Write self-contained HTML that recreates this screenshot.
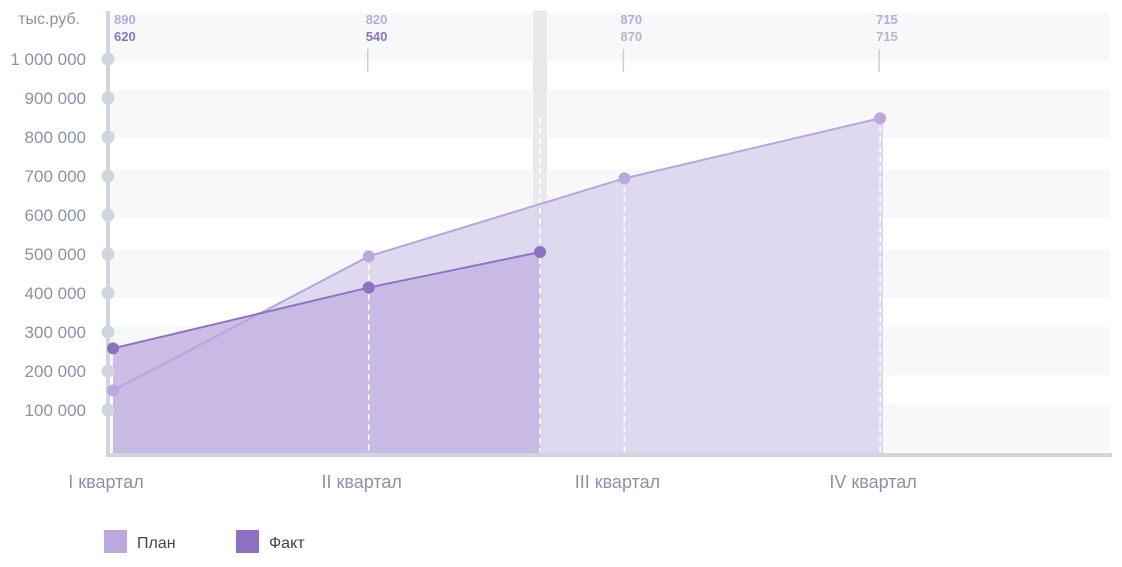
<!DOCTYPE html>
<html><head><meta charset="utf-8"><style>
body{margin:0;background:#fff;width:1122px;height:567px;overflow:hidden;font-family:"Liberation Sans",sans-serif}
</style></head><body>
<svg width="1122" height="567" id="chart" style="position:absolute;left:0;top:0"></svg>
<script>
const categories=["I квартал","II квартал","III квартал","IV квартал"];
const planValues=[150000,494000,694000,848000];
const factValues=[258000,414000,505000];
const factPositions=[0,1,1.67];
const yTicks=[100000,200000,300000,400000,500000,600000,700000,800000,900000,1000000];
const yTickLabels=["100 000","200 000","300 000","400 000","500 000","600 000","700 000","800 000","900 000","1 000 000"];
const topPlanLabels=["890","820","870","715"];
const topFactLabels=["620","540","870","715"];
const NS="http://www.w3.org/2000/svg";
const svg=document.getElementById('chart');
function X(i){return 113+i*255.7;}
function Y(v){return 449-v*0.000390;}
function el(t,a,p){const e=document.createElementNS(NS,t);for(const k in a)e.setAttribute(k,a[k]);(p||svg).appendChild(e);return e;}
[[13,48],[90,48],[170,48],[250,48],[327,48],[404,48]].forEach(b=>{
 const r=el('rect',{x:110,y:b[0],width:1000,height:b[1],fill:'#f7f8fa'});
 
 
});
const cb=el('rect',{x:533,y:11,width:14,height:444,fill:'#e9eaeb'});


let pp=planValues.map((v,i)=>X(i)+','+Y(v)).join(' ');
const pa=el('polygon',{points:X(0)+',453 '+pp+' '+(X(3)+3)+','+Y(planValues[3])+' '+(X(3)+3)+',453',fill:'#dcd5ee',opacity:0.9});


let fp=factValues.map((v,i)=>X(factPositions[i])+','+Y(v)).join(' ');
const fa=el('polygon',{points:X(0)+',453 '+fp+' '+X(factPositions[2])+',453',fill:'#c6b5e3',opacity:0.9});


planValues.forEach((v,i)=>{if(i==0)return;
 const l=el('line',{x1:X(i),x2:X(i),y1:Y(v)+8,y2:452,stroke:'#fff','stroke-width':1.5,'stroke-dasharray':'6,4'});
 
 });
const dl=el('line',{x1:X(factPositions[2]),x2:X(factPositions[2]),y1:118,y2:452,stroke:'#fff','stroke-width':1.5,'stroke-dasharray':'6,4'});


const pl=el('polyline',{points:pp,fill:'none',stroke:'#b9a5de','stroke-width':2});


const fl=el('polyline',{points:fp,fill:'none',stroke:'#9074c4','stroke-width':2});


const ya=el('rect',{x:106,y:11,width:4,height:446,fill:'#d0d6dd'});


const xa=el('rect',{x:106,y:453,width:1006,height:4,fill:'#d0d6dd'});


yTicks.forEach((v,i)=>{
 const c=el('circle',{cx:108,cy:Y(v),r:6.5,fill:'#d0d6dd'});
 
 
 const t=el('text',{x:86,y:Y(v)+6,'text-anchor':'end','font-size':17,fill:'#8a93a6'});
 t.textContent=yTickLabels[i];
 
 
});
const yu=el('text',{x:80,y:24,'text-anchor':'end','font-size':16,fill:'#8a93a6'});
yu.textContent='тыс.руб.';


planValues.forEach((v,i)=>{const c=el('circle',{cx:X(i),cy:Y(v),r:6,fill:'#bca8df'});
 
 });
factValues.forEach((v,i)=>{const c=el('circle',{cx:X(factPositions[i]),cy:Y(v),r:6,fill:'#8e72c1'});
 
 });
categories.forEach((c,i)=>{
 const x=X(i)+(i==0?1:(i==1?-3:-4));
 const t1=el('text',{x:x,y:24,'font-size':13,'font-weight':'bold',fill:'#bca8df'});
 t1.textContent=topPlanLabels[i];
 
 
 const t2=el('text',{x:x,y:41,'font-size':13,'font-weight':'bold',fill:i<2?'#8e72c1':'#b5b8be'});
 t2.textContent=topFactLabels[i];
 
 
 if(i>0){const l=el('line',{x1:X(i)-1,x2:X(i)-1,y1:49,y2:72,stroke:'#c9d0d8','stroke-width':1.5});
  
  }
 const xl=el('text',{x:X(i)-7,y:488,'text-anchor':'middle','font-size':18,fill:'#8a93a6'});
 xl.textContent=c;
 
 
});
[["План","#bca8df",104],["Факт","#8e72c1",236]].forEach((L,i)=>{
 const r=el('rect',{x:L[2],y:530,width:23,height:23,fill:L[1]});
 
 
 const t=el('text',{x:L[2]+33,y:548,'font-size':16,fill:'#444'});
 t.textContent=L[0];
 
 
});
</script>
</body></html>
